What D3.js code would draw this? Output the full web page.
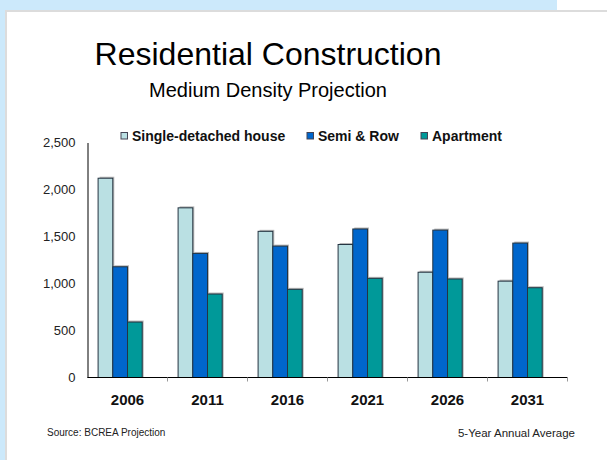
<!DOCTYPE html>
<meta charset="utf-8">
<head>
	<title>Residential Construction</title>
</head>

<style>
	body { margin: 0; background: #fff; }
	text { font-family: Arial, "Liberation Sans", sans-serif; }
</style>

<body>
	<svg width="607" height="460"></svg>

	<script src="https://cdnjs.cloudflare.com/ajax/libs/d3/7.8.5/d3.min.js"></script>

	<script>

		var years = ["2006", "2011", "2016", "2021", "2026", "2031"];
		var seriesNames = ["Single-detached house", "Semi & Row", "Apartment"];
		var singleDetached = [2120, 1805, 1555, 1415, 1120, 1025];
		var semiRow = [1178, 1320, 1398, 1580, 1568, 1430];
		var apartment = [590, 888, 938, 1055, 1048, 955];
		var yTicks = [0, 500, 1000, 1500, 2000, 2500];

		var colors = ["#bae0e3", "#0066cc", "#009999"];

		var svg = d3.select("svg");

		// slide background: blue strips on top and left, white card with grey edge
		svg.append("rect").attr("x", 0).attr("y", 0).attr("width", 607).attr("height", 460).attr("fill", "#fff");
		svg.append("rect").attr("x", 0).attr("y", 0).attr("width", 557).attr("height", 10).attr("fill", "#cce9fb");
		svg.append("rect").attr("x", 0).attr("y", 0).attr("width", 5).attr("height", 460).attr("fill", "#cce9fb");
		svg.append("rect").attr("x", 5).attr("y", 10).attr("width", 602).attr("height", 2).attr("fill", "#dcdcdc");
		svg.append("rect").attr("x", 5).attr("y", 10).attr("width", 2).attr("height", 450).attr("fill", "#dcdcdc");

		// titles
		svg.append("text")
			.attr("x", 268)
			.attr("y", 65)
			.attr("text-anchor", "middle")
			.style("font-size", "32px")
			.text("Residential Construction");

		svg.append("text")
			.attr("x", 268)
			.attr("y", 97)
			.attr("text-anchor", "middle")
			.style("font-size", "20px")
			.text("Medium Density Projection");

		var margin = {top: 142.5, left: 87.5},
			width = 480,
			height = 235;

		var g = svg.append("g")
			.attr("transform", "translate(" + margin.left + "," + margin.top + ")");

		var x = d3.scaleBand()
			.domain(years)
			.range([0, width]);

		// four slots per year, the last one is empty in the original chart
		var x1 = d3.scaleBand()
			.domain([0, 1, 2, 3])
			.range([0, x.bandwidth()])
			.paddingOuter(0.72);

		var y = d3.scaleLinear()
			.domain([0, 2500])
			.range([height, 0]);

		var data = years.map(function(d, i) {
			return {year: d, values: [singleDetached[i], semiRow[i], apartment[i]]};
		});

		// y axis
		var yAxis = d3.axisLeft(y)
			.tickValues(yTicks)
			.tickFormat(d3.format(","))
			.tickSize(0)
			.tickPadding(12);

		g.append("g")
			.call(yAxis)
			.call(function(a) {
				a.select(".domain").attr("stroke", "#000");
				a.selectAll("text").style("font-size", "13px").attr("fill", "#222");
			});

		// bars
		var groups = g.selectAll(".year")
			.data(data)
			.enter().append("g")
			.attr("transform", function(d) { return "translate(" + x(d.year) + ",0)"; });

		// soft shadow behind each bar
		groups.selectAll(".shadow")
			.data(function(d) { return d.values; })
			.enter().append("rect")
			.attr("x", function(d, i) { return x1(i) + 1.5; })
			.attr("y", function(d) { return y(d) - 1.5; })
			.attr("width", x1.bandwidth())
			.attr("height", function(d) { return height - y(d) + 1.5; })
			.attr("fill", "#b8b8b8");

		groups.selectAll(".bar")
			.data(function(d) { return d.values; })
			.enter().append("rect")
			.attr("x", function(d, i) { return x1(i); })
			.attr("y", function(d) { return y(d); })
			.attr("width", x1.bandwidth())
			.attr("height", function(d) { return height - y(d); })
			.attr("fill", function(d, i) { return colors[i]; })
			.attr("stroke", "#243442")
			.attr("stroke-width", 1);

		// x axis
		var xAxis = d3.axisBottom(x)
			.tickSize(0)
			.tickPadding(17);

		g.append("g")
			.attr("transform", "translate(0," + height + ")")
			.call(xAxis)
			.call(function(a) {
				a.select(".domain").attr("stroke", "#000").attr("d", "M0,0H" + width);
				a.selectAll("text").style("font-size", "15px").style("font-weight", "bold").attr("fill", "#111");
			});

		// tick marks on the band boundaries
		g.selectAll(".bandTick")
			.data(years)
			.enter().append("line")
			.attr("x1", function(d) { return x(d) + x.bandwidth(); })
			.attr("x2", function(d) { return x(d) + x.bandwidth(); })
			.attr("y1", height)
			.attr("y2", height + 4)
			.attr("stroke", "#999");

		// legend
		var legendX = [121, 307, 421];
		var legend = svg.selectAll(".legend")
			.data(seriesNames)
			.enter().append("g")
			.attr("transform", function(d, i) { return "translate(" + legendX[i] + ",132.5)"; });

		legend.append("rect")
			.attr("width", 6.5)
			.attr("height", 6.5)
			.attr("fill", function(d, i) { return colors[i]; })
			.attr("stroke", "#445");

		legend.append("text")
			.attr("x", 11)
			.attr("y", 8.5)
			.style("font-size", "14px")
			.style("font-weight", "bold")
			.attr("fill", "#111")
			.text(function(d) { return d; });

		// footer notes
		svg.append("text")
			.attr("x", 47)
			.attr("y", 436)
			.style("font-size", "10px")
			.attr("fill", "#222")
			.text("Source: BCREA Projection");

		svg.append("text")
			.attr("x", 575)
			.attr("y", 437)
			.attr("text-anchor", "end")
			.style("font-size", "11.5px")
			.attr("fill", "#222")
			.text("5-Year Annual Average");

	</script>
</body>
</html>
